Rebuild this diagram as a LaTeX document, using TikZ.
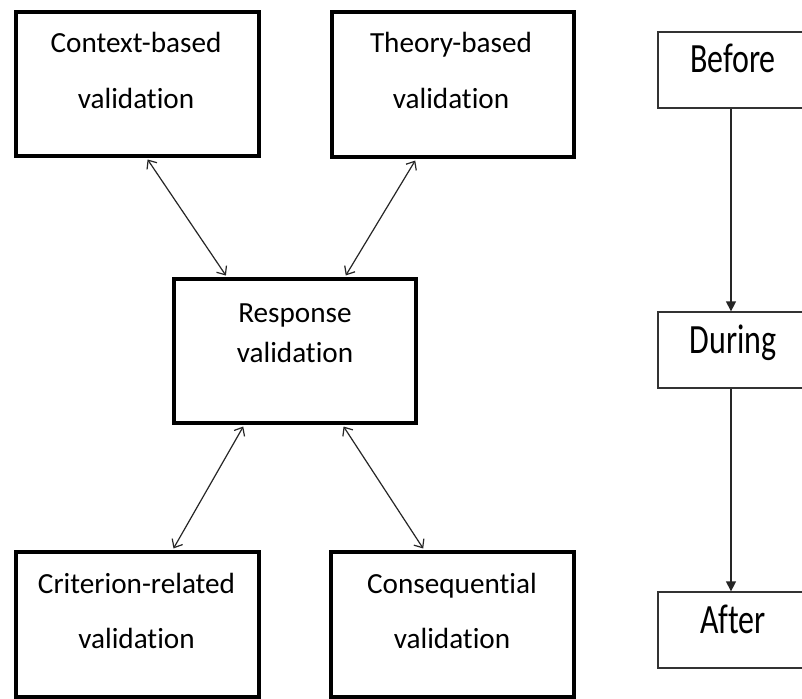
\documentclass[tikz,border=0pt]{standalone}
\usepackage{fontspec}
\setmainfont{Carlito}[RawFeature={-liga;-clig}]
\usetikzlibrary{arrows.meta}
\begin{document}
\begin{tikzpicture}[x=1pt,y=-1pt,
  bigbox/.style={draw=black,line width=4.5pt,inner sep=0pt,minimum width=243pt,minimum height=144pt},
  smallbox/.style={draw=black!80,line width=1.3pt,inner sep=0pt,minimum width=146pt,minimum height=76pt},
  lbl/.style={anchor=base,inner sep=0pt,font=\fontsize{29.2}{34}\selectfont,text=black},
  rlbl/.style={anchor=base,inner sep=0pt,font=\fontsize{32}{38}\selectfont,text=black},
  dbl/.style={black!85,line width=1.2pt,{Straight Barb[length=7pt,width=12pt]}-{Straight Barb[length=7pt,width=12pt]},shorten <=1.5pt,shorten >=1.5pt},
  flow/.style={black!85,line width=1.3pt,-{Triangle[length=10pt,width=10pt]}}]
\useasboundingbox (0,0) rectangle (802,698);
\clip (0,0) rectangle (802,698);
\fill[white] (0,0) rectangle (802,698);
% left boxes
\node[bigbox] (ctx) at (137.5,84) {};
\node[bigbox,minimum width=242pt,minimum height=145pt] (thy) at (453,84.5) {};
\node[bigbox,minimum width=242pt] (resp) at (295,351) {};
\node[bigbox,minimum height=145pt] (crit) at (137.5,624.5) {};
\node[bigbox,minimum height=145pt] (cons) at (452.5,624.5) {};
% left labels
\node[lbl] (ctx1) at (136,53) {Context-based};
\node[lbl] (ctx2) at (136,109) {validation};
\node[lbl] (thy1) at (451,53) {Theory-based};
\node[lbl] (thy2) at (451,109) {validation};
\node[lbl] (resp1) at (295,322) {Response};
\node[lbl] (resp2) at (295,362) {validation};
\node[lbl] (crit1) at (136.5,593) {Criterion-related};
\node[lbl] (crit2) at (136.5,648) {validation};
\node[lbl] (cons1) at (452,593) {Consequential};
\node[lbl] (cons2) at (452,648) {validation};
% double arrows
\draw[dbl] ([xshift=133pt]ctx.south west) -- ([xshift=55pt]resp.north west);
\draw[dbl] ([xshift=86.25pt]thy.south west) -- ([xshift=173.25pt]resp.north west);
\draw[dbl] ([xshift=72.25pt]resp.south west) -- ([xshift=159pt]crit.north west);
\draw[dbl] ([xshift=171pt]resp.south west) -- ([xshift=95.25pt]cons.north west);
% right column
\node[smallbox] (before) at (731,70) {};
\node[smallbox] (during) at (731,350) {};
\node[smallbox] (after) at (731,630) {};
\node[rlbl] (beforet) at (733,73) {\scalebox{1}[1.3]{Before}};
\node[rlbl] (duringt) at (733,353) {\scalebox{1}[1.3]{During}};
\node[rlbl] (aftert) at (733,633) {\scalebox{1}[1.3]{After}};
\draw[flow] (before.south) -- (during.north);
\draw[flow] (during.south) -- (after.north);
\end{tikzpicture}
\end{document}
